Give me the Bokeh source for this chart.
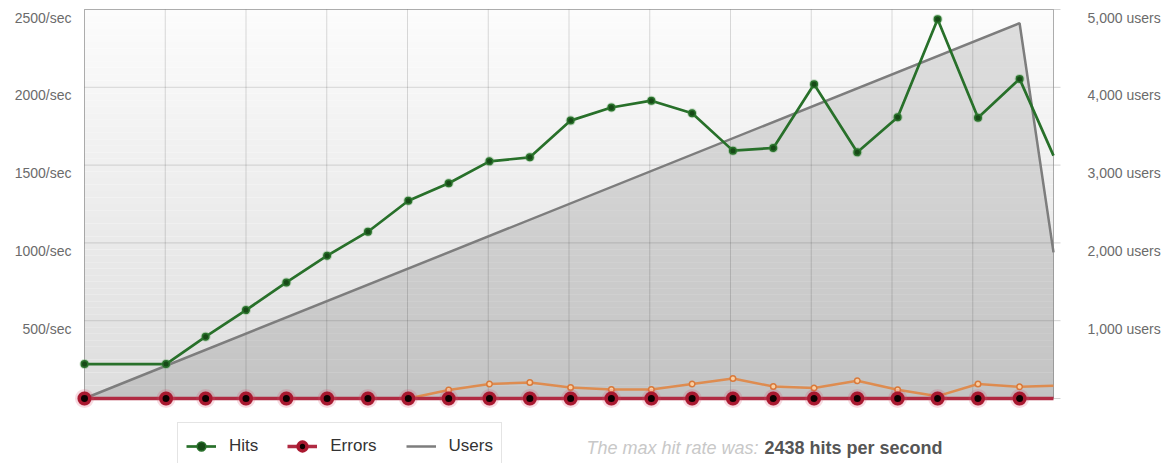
from bokeh.plotting import figure
from bokeh.models import Range1d, LinearAxis, FixedTicker, Legend, LegendItem, Label
from bokeh.embed import file_html
from bokeh.resources import INLINE

# ---- data -------------------------------------------------------------
# sample times (one grid column = 2 units)
sample_x = [0, 2.02, 3.0, 4.0, 5.0, 6.01, 7.02, 8.02, 9.02, 10.03, 11.03, 12.04,
            13.05, 14.04, 15.05, 16.06, 17.06, 18.07, 19.14, 20.14, 21.13, 22.13,
            23.16, 24.0]
hits = [221, 221, 397, 568, 746, 918, 1072, 1271, 1383, 1524, 1550, 1786,
        1870, 1914, 1833, 1593, 1610, 2020, 1582, 1807, 2438, 1805, 2054, 1561]
errors = [0, 0, 0, 0, 0, 0, 0, 0, 0, 0, 0, 0,
          0, 0, 0, 0, 0, 0, 0, 0, 0, 0, 0, 0]
timeouts = [0, 0, 0, 0, 0, 0, 0, 0, 54, 93, 103, 71,
            58, 58, 93, 129, 77, 67, 114, 56, 15, 93, 75, 82]
users_x = [0, 23.16, 24.0]
users = [0, 4824, 1878]

rate_ticks = [500, 1000, 1500, 2000, 2500]
rate_labels = ["500/sec", "1000/sec", "1500/sec", "2000/sec", "2500/sec"]
user_ticks = [1000, 2000, 3000, 4000, 5000]
user_labels = ["1,000 users", "2,000 users", "3,000 users", "4,000 users", "5,000 users"]
column_ticks = [0, 2, 4, 6, 8, 10, 12, 14, 16, 18, 20, 22, 24]

# ---- geometry (pixels) ------------------------------------------------
W, H = 1176, 463
FRAME_L, FRAME_R = 74, 1070          # drawing frame, wider than the chart box
BOX_L, BOX_R = 84, 1053              # chart box: x = 0 .. 24
BOX_T, BOX_B = 9, 398                # chart box: y = 2500 .. 0
X_MAX, RATE_MAX, USER_MAX = 24, 2500, 5000
px_x = (BOX_R - BOX_L) / X_MAX       # pixels per x unit
px_y = (BOX_B - BOX_T) / RATE_MAX    # pixels per hit/sec
label_drop = 8                       # tick labels sit a little below their grid line
stub = 7 / px_x                      # right-hand tick stubs
FONT = "Liberation Sans"

x_lo = -(BOX_L - FRAME_L) / px_x
x_hi = X_MAX + (FRAME_R - BOX_R) / px_x
y_lo = -(H - BOX_B) / px_y
y_hi = RATE_MAX + BOX_T / px_y
shift = label_drop / px_y

p = figure(width=W, height=H, x_range=Range1d(x_lo, x_hi), y_range=Range1d(y_lo, y_hi),
           x_axis_location=None, y_axis_location=None,
           min_border_left=FRAME_L, min_border_right=W - FRAME_R,
           min_border_top=0, min_border_bottom=0,
           toolbar_location=None, output_backend="svg",
           background_fill_color="white", border_fill_color="white",
           outline_line_color=None)
p.xgrid.visible = False
p.ygrid.visible = False
p.extra_y_ranges = {
    "users": Range1d(2 * y_lo, 2 * y_hi),
    "rate_lab": Range1d(y_lo + shift, y_hi + shift),
    "user_lab": Range1d(2 * (y_lo + shift), 2 * (y_hi + shift)),
}

# vertical gradient behind the chart box
n_bands = 60
band_b, band_t, band_c = [], [], []
for i in range(n_bands):
    f = (i + 0.5) / n_bands
    g = int(round(221 + (252 - 221) * f))
    band_b.append(RATE_MAX * i / n_bands)
    band_t.append(RATE_MAX * (i + 1) / n_bands)
    band_c.append("#%02x%02x%02x" % (g, g, g))
p.quad(left=0, right=X_MAX, bottom=band_b, top=band_t, fill_color=band_c,
       line_color=None, level="image")

# grid lines, box border and right-hand tick stubs
p.segment(x0=column_ticks, y0=0, x1=column_ticks, y1=RATE_MAX,
          line_color="black", line_alpha=0.14, line_width=1, level="underlay")
p.segment(x0=0, y0=[0] + rate_ticks, x1=X_MAX, y1=[0] + rate_ticks,
          line_color="black", line_alpha=0.14, line_width=1, level="underlay")
p.segment(x0=X_MAX, y0=[0] + rate_ticks, x1=X_MAX + stub, y1=[0] + rate_ticks,
          line_color="#d2d2d2", line_width=1, level="underlay")
p.segment(x0=[0, 0, X_MAX], y0=[0, RATE_MAX, 0], x1=[0, X_MAX, X_MAX],
          y1=[RATE_MAX, RATE_MAX, RATE_MAX],
          line_color="black", line_alpha=0.2, line_width=1, level="underlay")

# users: shaded area + outline
p.varea(x=users_x, y1=0, y2=users, y_range_name="users",
        fill_color="black", fill_alpha=0.115)
users_line = p.line(users_x, users, y_range_name="users",
                    line_color="#7d7d7d", line_width=2.5)

# timeouts (thin orange series)
p.line(sample_x, timeouts, line_color="#de8c50", line_width=2.5)
p.scatter(sample_x[:-1], timeouts[:-1], size=5.5, fill_color="#f9cfa3",
          line_color="#d9793a", line_width=1.5)

# errors
err_line = p.line(sample_x, errors, line_color="#b02a42", line_width=3.5)
err_glow = p.scatter(sample_x[:-1], errors[:-1], size=15, fill_color="#d84a68",
                     fill_alpha=0.2, line_color="#d84a68", line_alpha=0.2, line_width=4)
err_pts = p.scatter(sample_x[:-1], errors[:-1], size=10.5, fill_color="#0d0000",
                    line_color="#a8182f", line_width=3.5)

# hits
hits_line = p.line(sample_x, hits, line_color="#28702a", line_width=2.7)
hits_glow = p.scatter(sample_x[:-1], hits[:-1], size=10, fill_color="#4c9a4c",
                      fill_alpha=0.3, line_color=None)
hits_pts = p.scatter(sample_x[:-1], hits[:-1], size=6.5, fill_color="#174a17",
                     line_color="#28702a", line_width=1.5)

# ---- axes -------------------------------------------------------------
def style_axis(ax, standoff):
    ax.axis_line_color = None
    ax.major_tick_line_color = None
    ax.minor_tick_line_color = None
    ax.major_tick_out = 0
    ax.major_tick_in = 0
    ax.major_label_standoff = standoff
    ax.major_label_text_font = FONT
    ax.major_label_text_font_size = "14px"
    ax.major_label_text_color = "#6b6b6b"

left_ax = LinearAxis(y_range_name="rate_lab", ticker=FixedTicker(ticks=rate_ticks),
                     major_label_overrides=dict(zip(rate_ticks, rate_labels)))
style_axis(left_ax, 3)
p.add_layout(left_ax, "left")

right_ax = LinearAxis(y_range_name="user_lab", ticker=FixedTicker(ticks=user_ticks),
                      major_label_overrides=dict(zip(user_ticks, user_labels)))
style_axis(right_ax, 17)
p.add_layout(right_ax, "right")

# ---- legend and summary ------------------------------------------------
legend = Legend(items=[
    LegendItem(label="Hits", renderers=[hits_line, hits_glow, hits_pts]),
    LegendItem(label="Errors", renderers=[err_line, err_glow, err_pts]),
    LegendItem(label="Users", renderers=[users_line]),
], orientation="horizontal", location=(177 - FRAME_L, -7),
    glyph_width=30, glyph_height=22, label_height=30, label_standoff=13,
    spacing=29, padding=8, margin=0,
    border_line_color="#c9c9c9", background_fill_color="white", background_fill_alpha=1,
    label_text_font=FONT, label_text_font_size="17px", label_text_color="#333333")
p.add_layout(legend)

text_y = -(447 - BOX_B) / px_y
p.add_layout(Label(x=(758 - BOX_L) / px_x, y=text_y, text="The max hit rate was:",
                   text_align="right", text_baseline="middle", text_font=FONT,
                   text_font_size="18px", text_font_style="italic", text_color="#c8c8c8"))
p.add_layout(Label(x=(764 - BOX_L) / px_x, y=text_y,
                   text=f"{max(hits)} hits per second",
                   text_align="left", text_baseline="middle", text_font=FONT,
                   text_font_size="18px", text_font_style="bold", text_color="#555555"))

open("out.html", "w").write(file_html(p, INLINE))
